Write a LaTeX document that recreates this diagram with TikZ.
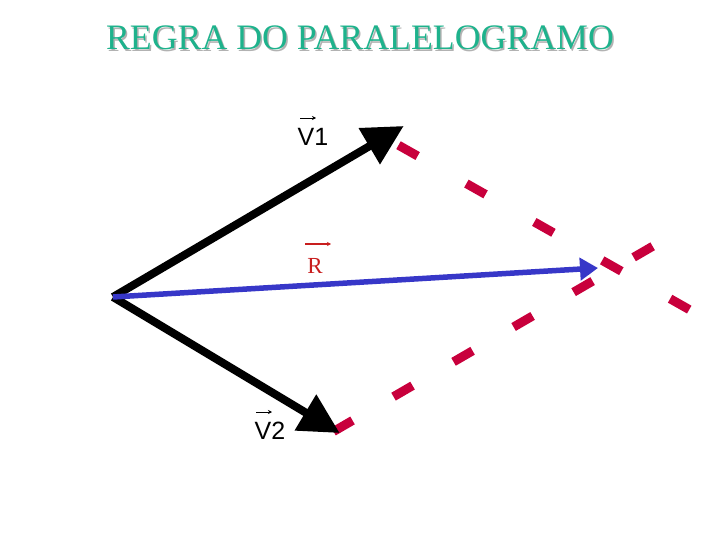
\documentclass[tikz,border=0pt]{standalone}
\usepackage{fontspec}
\setmainfont{Liberation Serif}
\newfontfamily\labsans{Liberation Sans}
\usetikzlibrary{arrows.meta}
\definecolor{titleteal}{RGB}{30,178,140}
\definecolor{dashred}{RGB}{200,0,60}
\definecolor{rblue}{RGB}{55,55,200}
\definecolor{rred}{RGB}{200,30,30}
\tikzset{
  vecblack/.style={line width=8pt, black, -{Triangle[length=40pt,width=40pt]}, shorten >=-2pt},
  vecblue/.style={line width=5.5pt, rblue, -{Triangle[length=18pt,width=22pt]}},
  dashA/.style={line width=9pt, dashred, dash pattern=on 22pt off 56pt},
  dashB/.style={line width=9pt, dashred, dash pattern=on 22pt off 47.4pt},
  veclab/.style={font=\labsans\fontsize{25}{25}\selectfont, inner sep=0pt},
  smallarr/.style={line width=0.9pt, -{Stealth[length=4pt,width=4pt]}}
}
\begin{document}
\begin{tikzpicture}[x=1pt,y=-1pt]
\useasboundingbox (0,0) rectangle (720,540);
% title
\node[gray!60, font=\fontsize{35.8}{36}\selectfont, inner sep=0pt] (tshadow) at (361.5,39.5) {REGRA DO PARALELOGRAMO};
\node[titleteal, font=\fontsize{35.8}{36}\selectfont, inner sep=0pt] (title) at (360,38) {REGRA DO PARALELOGRAMO};
% key points
\coordinate (O) at (113,297);
\coordinate (A) at (402,127);
\coordinate (B) at (338,432);
\coordinate (C) at (598,268);
\coordinate (d1s) at (398.5,145.2);
\coordinate (d1e) at (690,310);
\coordinate (d2s) at (333.5,431.5);
\coordinate (d2e) at (654,245.5);
% dashed parallels
\draw[dashA] (d1s) -- (d1e);
\draw[dashB] (d2s) -- (d2e);
% vectors
\draw[vecblack] (O) -- (A);
\draw[vecblack] (O) -- (B);
\draw[vecblue] (O) -- (C);
% labels
\node[veclab] (v1) at (313,137) {V1};
\coordinate (v1a) at (300,118);
\coordinate (v1b) at (316,118);
\draw[smallarr] (v1a) -- (v1b);
\node[veclab] (v2) at (270,431) {V2};
\coordinate (v2a) at (256,412);
\coordinate (v2b) at (272,412);
\draw[smallarr] (v2a) -- (v2b);
\node[rred, font=\fontsize{23}{23}\selectfont, inner sep=0pt] (r) at (315,266) {R};
\coordinate (ra) at (305,244);
\coordinate (rb) at (331,244);
\draw[smallarr, rred, line width=1.6pt] (ra) -- (rb);
\end{tikzpicture}
\end{document}
